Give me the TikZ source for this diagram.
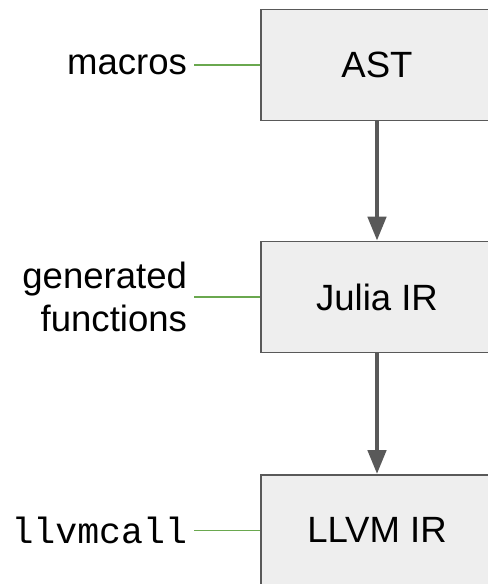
\documentclass[tikz,border=0pt]{standalone}
\definecolor{boxGray}{RGB}{238,238,238}
\definecolor{edgeGray}{RGB}{89,89,89}
\definecolor{hookGreen}{RGB}{106,168,79}
\usepackage{fontspec}
\setmainfont{Liberation Sans}
\setmonofont{Liberation Mono}
\usepackage{tikz}
\usetikzlibrary{arrows.meta,positioning}

\begin{document}
\begin{tikzpicture}[
    stage/.style={draw=edgeGray, line width=1.4pt, fill=boxGray,
                  minimum width=5.8cm, minimum height=2.775cm,
                  font=\fontsize{26}{30}\selectfont},
    hook/.style={inner sep=0pt, outer sep=5pt, align=right,
                 font=\fontsize{26}{30}\selectfont},
    flow/.style={-{Triangle[length=17pt,width=13pt]}, line width=2.8pt, edgeGray},
    tie/.style={draw=hookGreen, line width=1.2pt}
  ]
  \useasboundingbox (0,0) rectangle (12.175,-14.6);

  % compilation stages
  \node[stage] (ast) at (9.425,-1.625) {AST};
  \node[stage] (jir) at (9.425,-7.425) {Julia IR};
  \node[stage] (lir) at (9.425,-13.26) {LLVM IR};

  \draw[flow] (ast) -- (jir);
  \draw[flow] (jir) -- (lir);

  % metaprogramming hooks
  \node[hook, left=1.65cm of ast] (mac) {macros};
  \node[hook, left=1.65cm of jir] (gen) {generated\\functions};
  \node[hook, left=1.65cm of lir, font=\fontsize{26}{30}\ttfamily] (llc) {llvmcall};

  \draw[tie] (mac) -- (ast);
  \draw[tie] (gen) -- (jir);
  \draw[tie] (llc) -- (lir);
\end{tikzpicture}
\end{document}
